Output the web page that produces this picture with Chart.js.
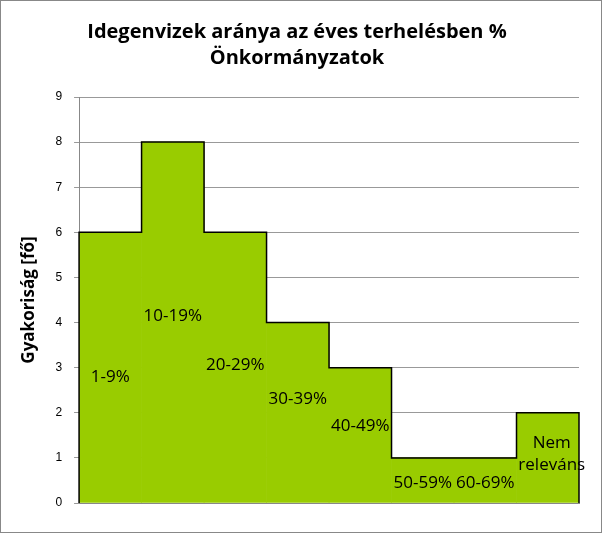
<!DOCTYPE html>
<html>
<head>
<meta charset="utf-8">
<script src="https://cdn.jsdelivr.net/npm/chart.js@4"></script>
<style>
  body { margin: 0; background: #fff; }
  #wrap { width: 600px; height: 531px; border: 1px solid #888; }
</style>
</head>
<body>
<div id="wrap"><canvas id="c" width="600" height="531"></canvas></div>
<script>
const categories = ["1-9%", "10-19%", "20-29%", "30-39%", "40-49%", "50-59%", "60-69%", "Nem releváns"];
const counts = [6, 8, 6, 4, 3, 1, 1, 2];
const labelLevels = [2.8, 4.15, 3.05, 2.3, 1.7, 0.45, 0.45, 1.6];
const yTicks = [0, 1, 2, 3, 4, 5, 6, 7, 8, 9];

const stepOutline = {
  id: "stepOutline",
  afterDatasetsDraw(chart) {
    const { ctx, scales: { x, y } } = chart;
    const meta = chart.getDatasetMeta(0);
    ctx.save();
    ctx.strokeStyle = "#000";
    ctx.lineWidth = 1.5;
    ctx.beginPath();
    meta.data.forEach((bar, i) => {
      const left = bar.x - bar.width / 2, right = bar.x + bar.width / 2;
      const top = y.getPixelForValue(counts[i]);
      if (i === 0) ctx.moveTo(left, y.getPixelForValue(0));
      ctx.lineTo(left, top);
      ctx.lineTo(right, top);
      if (i === counts.length - 1) ctx.lineTo(right, y.getPixelForValue(0));
    });
    ctx.stroke();

    ctx.fillStyle = "#000";
    ctx.font = "17px 'Open Sans', sans-serif";
    ctx.textAlign = "center";
    ctx.textBaseline = "middle";
    meta.data.forEach((bar, i) => {
      const py = y.getPixelForValue(labelLevels[i]);
      const words = categories[i].split(" ");
      if (words.length > 1) {
        ctx.fillText(words[0], bar.x + 4, py + 12);
        ctx.fillText(words[1], bar.x + 4, py + 34);
      } else {
        ctx.fillText(categories[i], bar.x, py);
      }
    });
    ctx.restore();
  },
};

new Chart(document.getElementById("c"), {
  type: "bar",
  data: {
    labels: categories,
    datasets: [{
      data: counts,
      backgroundColor: "#99cc00",
      borderWidth: 0,
      barPercentage: 1,
      categoryPercentage: 1,
    }],
  },
  options: {
    responsive: false,
    animation: false,
    layout: { padding: { left: 14, right: 22, top: 0, bottom: 21 } },
    plugins: {
      legend: { display: false },
      tooltip: { enabled: false },
      title: {
        display: true,
        text: ["Idegenvizek aránya az éves terhelésben %", "Önkormányzatok"],
        color: "#000",
        font: { size: 20, weight: "bold", family: "'Open Sans', sans-serif", lineHeight: 1.3 },
        padding: { top: 18, bottom: 26 },
      },
    },
    scales: {
      x: {
        grid: { display: false },
        ticks: { display: false },
        border: { color: "#888" },
      },
      y: {
        min: 0,
        max: 9,
        afterBuildTicks: (s) => { s.ticks = yTicks.map((v) => ({ value: v })); },
        ticks: { color: "#000", font: { size: 12 }, padding: 12 },
        grid: { color: "#999", tickLength: 5 },
        border: { color: "#888" },
        title: {
          display: true,
          text: "Gyakoriság [fő]",
          color: "#000",
          font: { size: 17, weight: "bold", family: "'Open Sans', sans-serif" },
        },
      },
    },
  },
  plugins: [stepOutline],
});
</script>
</body>
</html>
